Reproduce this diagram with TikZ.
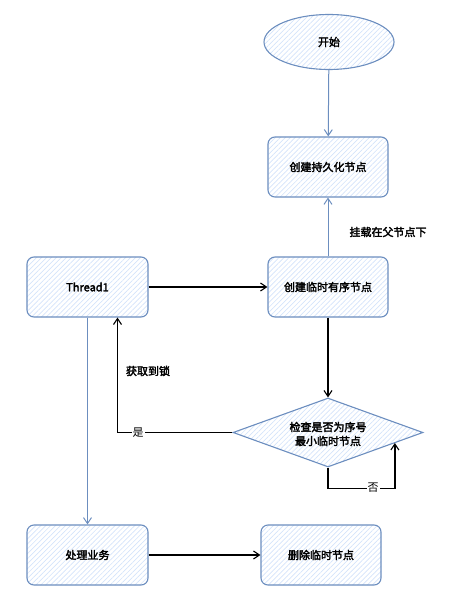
\documentclass[tikz,border=0pt]{standalone}
\usepackage{fontspec}
\setmainfont{Noto Sans CJK SC}[AutoFakeBold=2.6]
\usetikzlibrary{arrows.meta,shapes.geometric,patterns.meta,calc}
\definecolor{bstroke}{HTML}{6C8EBF}
\definecolor{bhatch}{HTML}{D4E3FA}
\tikzset{
  hatchfill/.style={pattern={Lines[angle=45,distance=3.5pt,line width=0.7pt]},pattern color=bhatch},
  box/.style={draw=bstroke,line width=1.1pt,rounded corners=7pt,hatchfill,minimum width=120pt,minimum height=60pt,font=\bfseries\fontsize{11}{12}\selectfont,inner sep=0pt},
  startshape/.style={draw=bstroke,line width=1.1pt,ellipse,hatchfill,minimum width=130pt,minimum height=55pt,font=\bfseries\fontsize{11}{12}\selectfont,inner sep=0pt},
  decision/.style={draw=bstroke,line width=1.1pt,diamond,hatchfill,minimum width=190pt,minimum height=69pt,inner sep=0pt,aspect=2.75},
  dtext/.style={font=\bfseries\fontsize{11}{14}\selectfont,align=center},
  blueflow/.style={draw=bstroke,line width=1pt,-{Straight Barb[length=6pt,width=8pt,line width=1pt]}},
  blackflow/.style={draw=black,line width=1.3pt,-{Straight Barb[length=6pt,width=8pt,line width=1.1pt]}},
  elabel/.style={font=\bfseries\fontsize{11}{12}\selectfont},
  wlabel/.style={font=\fontsize{11}{12}\selectfont,fill=white,inner sep=1pt},
}
\begin{document}
\begin{tikzpicture}[x=1pt,y=-1pt]
\useasboundingbox (0,0) rectangle (449,601);
\node[startshape] (start) at (329,42) {开始};
\node[box] (persist) at (328,167) {创建持久化节点};
\node[box,minimum width=121pt] (thread) at (87.5,287) {Thread1};
\node[box] (temp) at (328,287) {创建临时有序节点};
\node[decision] (check) at (328,432.5) {};
\node[dtext] (checkt) at (328,434) {检查是否为序号\\最小临时节点};
\node[box,minimum width=121pt] (work) at (87.5,555) {处理业务};
\node[box] (del) at (321,555) {删除临时节点};

\draw[blueflow] (start) -- (persist);
\draw[blueflow] (temp) -- (persist);
\node[elabel] (mount) at (388,232) {挂载在父节点下};
\draw[blackflow] (thread) -- (temp);
\draw[blackflow] (temp) -- (check);
\draw[blackflow] (check.west) -| ([xshift=30pt]thread.south);
\node[wlabel] (yes) at (138,433) {是};
\node[elabel] (lock) at (148,371) {获取到锁};
\coordinate (loopend) at ($(check.east)!0.3!(check.south)$);
\draw[blackflow] (check.south) -- ++(0,21) coordinate (loopc) -| (loopend);
\node[wlabel] (no) at (373,488) {否};
\draw[blueflow] (thread) -- (work);
\draw[blackflow] (work) -- (del);
\end{tikzpicture}
\end{document}
